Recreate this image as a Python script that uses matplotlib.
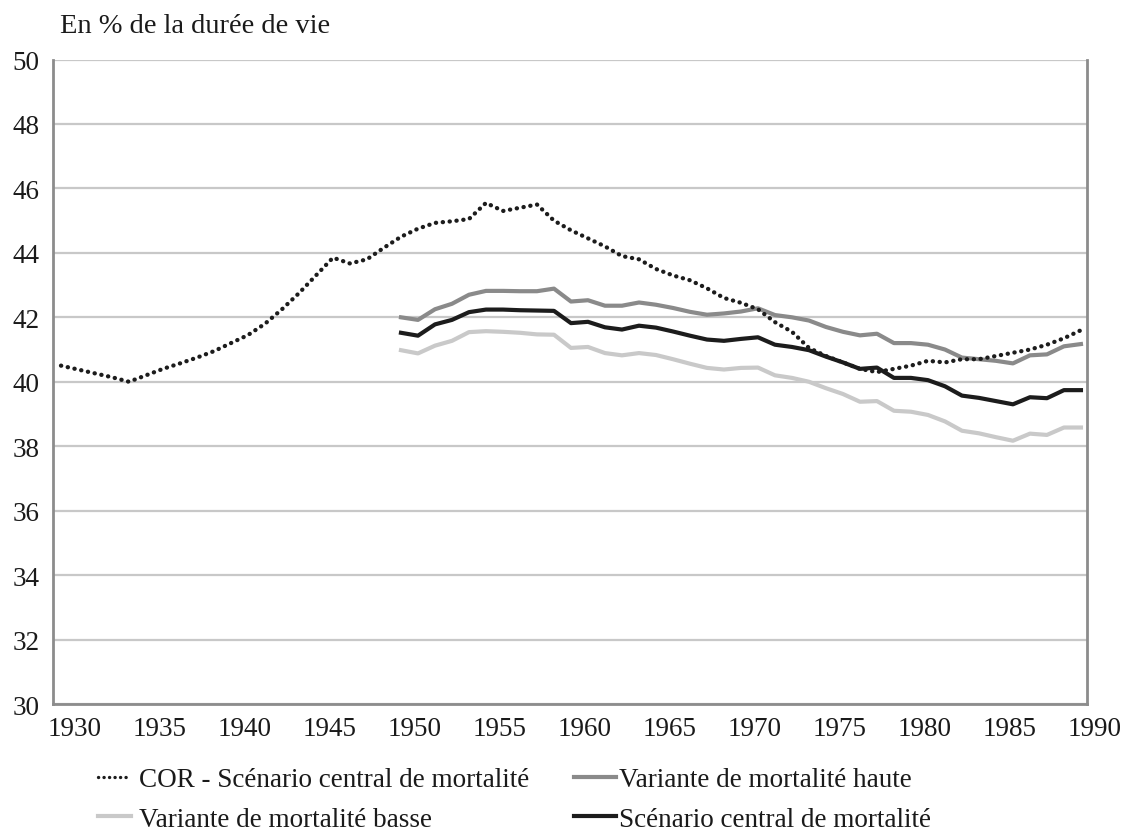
import matplotlib
matplotlib.use("Agg")
from matplotlib import pyplot as plt
from matplotlib.transforms import ScaledTranslation
from matplotlib.lines import Line2D
import numpy as np

plt.rcParams['font.family'] = ['Liberation Serif', 'DejaVu Serif']

# years
years_cor = list(range(1930, 1991))
years_var = list(range(1950, 1991))

# COR - scenario central de mortalite (1930-1990)
cor = [40.5, 40.38, 40.26, 40.14, 40.0, 40.2, 40.4, 40.57, 40.75, 40.95,
       41.2, 41.45, 41.8, 42.25, 42.75, 43.3, 43.85, 43.67, 43.8, 44.16,
       44.5, 44.75, 44.93, 44.98, 45.05, 45.55, 45.3, 45.4, 45.5, 45.0,
       44.7, 44.45, 44.2, 43.9, 43.8, 43.5, 43.3, 43.15, 42.9, 42.6,
       42.45, 42.25, 41.85, 41.55, 41.05, 40.8, 40.6, 40.4, 40.3, 40.4,
       40.5, 40.65, 40.6, 40.7, 40.7, 40.8, 40.9, 41.0, 41.15, 41.35, 41.6]

# variante de mortalite haute (1950-1990)
haute = [42.0, 41.92, 42.25, 42.42, 42.7, 42.82, 42.82, 42.81, 42.81, 42.89,
         42.49, 42.53, 42.36, 42.36, 42.46, 42.39, 42.29, 42.17, 42.08, 42.12,
         42.18, 42.28, 42.07, 42.0, 41.9, 41.7, 41.55, 41.44, 41.49, 41.2,
         41.2, 41.15, 41.0, 40.75, 40.7, 40.65, 40.57, 40.82, 40.85, 41.1, 41.17]

# variante de mortalite basse (1950-1990)
basse = [40.98, 40.88, 41.12, 41.27, 41.54, 41.57, 41.55, 41.52, 41.47, 41.46,
         41.05, 41.08, 40.89, 40.82, 40.89, 40.83, 40.7, 40.56, 40.43, 40.38,
         40.43, 40.44, 40.2, 40.12, 40.0, 39.8, 39.62, 39.38, 39.4, 39.1,
         39.07, 38.97, 38.77, 38.48, 38.4, 38.28, 38.17, 38.39, 38.35, 38.58, 38.58]

# scenario central de mortalite (1950-1990)
central = [41.52, 41.43, 41.78, 41.92, 42.16, 42.24, 42.24, 42.22, 42.21, 42.2,
           41.82, 41.86, 41.69, 41.62, 41.74, 41.68, 41.56, 41.43, 41.31, 41.27,
           41.33, 41.38, 41.15, 41.08, 40.98, 40.78, 40.6, 40.4, 40.44, 40.12,
           40.12, 40.05, 39.86, 39.57, 39.5, 39.4, 39.3, 39.52, 39.49, 39.74, 39.74]

x_ticks = list(range(1930, 1991, 5))
y_ticks = list(range(30, 51, 2))

fig = plt.figure(figsize=(11.23, 8.37), dpi=100)
ax = fig.add_axes([0.0469, 0.1577, 0.9208, 0.77])

c_dark = '#1c1c1c'
c_mid = '#8a8a8a'
c_light = '#c9c9c9'
dots = (0, (0.05, 1.55))

ax.plot(years_var, haute, color=c_mid, lw=3, solid_joinstyle='round', zorder=3)
ax.plot(years_var, basse, color=c_light, lw=3, solid_joinstyle='round', zorder=3)
ax.plot(years_var, central, color=c_dark, lw=3, solid_joinstyle='round', zorder=3)
ax.plot(years_cor, cor, color=c_dark, lw=3.1, linestyle=dots,
        dash_capstyle='round', zorder=4)

ax.set_xlim(1929.51, 1990.34)
ax.set_ylim(30, 50)
ax.set_yticks(y_ticks)
ax.set_xticks(x_ticks)
ax.tick_params(axis='both', length=0, labelsize=19.5, colors='#1a1a1a')
ax.tick_params(axis='y', pad=9.5)
ax.tick_params(axis='x', pad=8.5)
# labels sit a little to the right of the year positions in the original
offset = ScaledTranslation(14 / 100, 0, fig.dpi_scale_trans)
for lab in ax.get_xticklabels():
    lab.set_transform(lab.get_transform() + offset)

ax.grid(axis='y', color='#c8c8c8', lw=1.6, zorder=0)
ax.set_axisbelow(True)
ax.spines['top'].set_visible(False)
for s in ['left', 'right', 'bottom']:
    ax.spines[s].set_color('#8c8c8c')
    ax.spines[s].set_linewidth(2)

fig.text(60 / 1123, 1 - 33 / 837, 'En % de la durée de vie', fontsize=20.5,
         va='baseline', ha='left', color='#1a1a1a')

h_cor = Line2D([], [], color=c_dark, lw=2.4, linestyle=(0, (0.05, 1.6)), dash_capstyle='round')
h_haute = Line2D([], [], color=c_mid, lw=3)
h_basse = Line2D([], [], color=c_light, lw=3)
h_central = Line2D([], [], color=c_dark, lw=3)

leg_kw = dict(loc='upper left', frameon=False, fontsize=19.5, labelspacing=0.55,
              borderpad=0, borderaxespad=0)
leg1 = fig.legend([h_cor, h_basse], ['COR - Scénario central de mortalité', 'Variante de mortalité basse'],
                  bbox_to_anchor=(98 / 1123, 1 - 768 / 837), handlelength=1.2,
                  handletextpad=0.3, **leg_kw)
leg2 = fig.legend([h_haute, h_central], ['Variante de mortalité haute', 'Scénario central de mortalité'],
                  bbox_to_anchor=(574 / 1123, 1 - 768 / 837), handlelength=1.55,
                  handletextpad=0.1, **leg_kw)
for leg in (leg1, leg2):
    for t in leg.get_texts():
        t.set_color('#1a1a1a')

fig.savefig('out.png', dpi=100)
